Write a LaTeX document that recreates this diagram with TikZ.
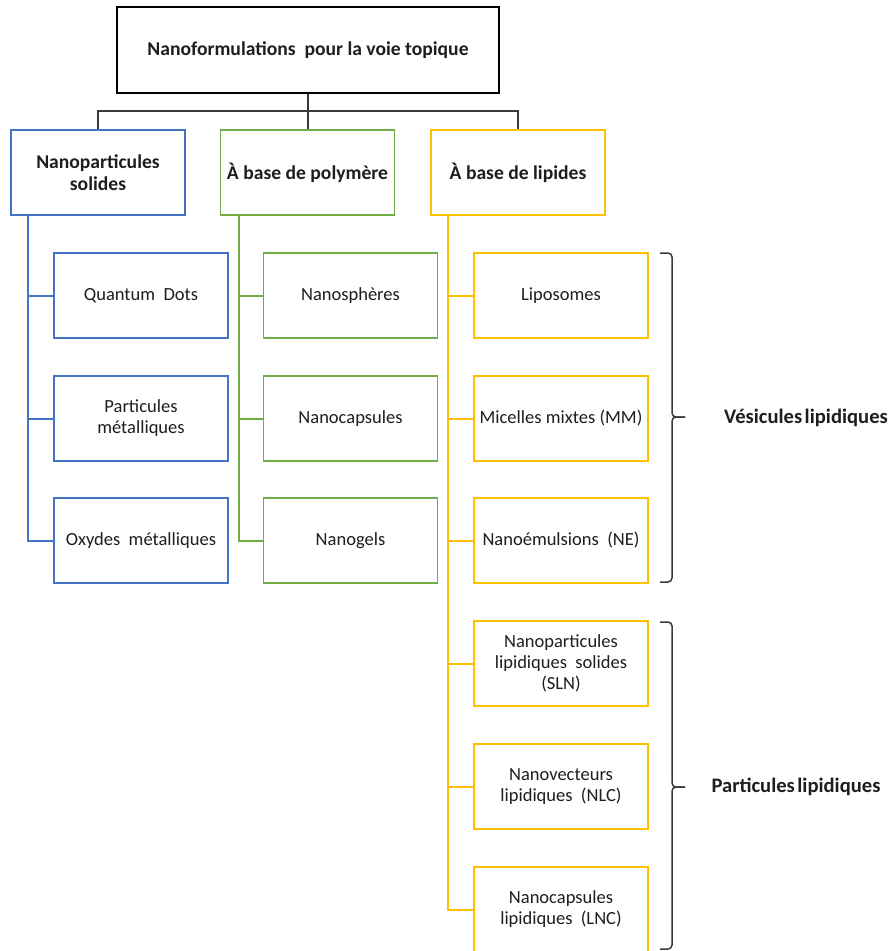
\documentclass[tikz,border=0pt]{standalone}
\usepackage{fontspec}
\setmainfont{Carlito}
\definecolor{cblue}{HTML}{4472C4}
\definecolor{cgreen}{HTML}{70AD47}
\definecolor{cgold}{HTML}{FFC000}
\definecolor{ctext}{HTML}{1E1E1E}
\definecolor{cline}{HTML}{3A3A3A}
\begin{document}
\begin{tikzpicture}[x=1pt,y=-1pt,
  box/.style={draw, line width=1.3pt, fill=white, minimum width=174pt, minimum height=85pt,
    inner sep=1pt, align=center, text=ctext, font=\fontsize{18.5}{21}\selectfont},
  headbox/.style={box, font=\bfseries\fontsize{19.6}{22}\selectfont},
  bbox/.style={box, draw=cblue},
  gbox/.style={box, draw=cgreen},
  ybox/.style={box, draw=cgold},
  topline/.style={draw=cline, line width=1.8pt},
  bline/.style={draw=cblue, line width=2pt},
  gline/.style={draw=cgreen, line width=2pt},
  yline/.style={draw=cgold, line width=2pt},
  bracestyle/.style={draw=cline, line width=1.5pt, rounded corners=4pt},
  lab/.style={text=ctext, font=\bfseries\fontsize{20.6}{24}\selectfont, inner sep=0pt}
]
\useasboundingbox (0,0) rectangle (893,951);

% top
\node[headbox, draw=black, minimum width=382pt, minimum height=86pt] (top) at (308,50)
  {Nanoformulations~ pour la voie topique};

% level 1
\node[headbox, draw=cblue] (l1b) at (98,172.5) {Nanoparticules\\solides};
\node[headbox, draw=cgreen] (l1g) at (307.5,172.5) {À base de polymère};
\node[headbox, draw=cgold] (l1y) at (518,172.5) {À base de lipides};

% gold children
\node[ybox] (y1) at (561,295.5) {Liposomes};
\node[ybox] (y2) at (561,418.5) {Micelles mixtes (MM)};
\node[ybox] (y3) at (561,540.5) {Nanoémulsions~ (NE)};
\node[ybox] (y4) at (561,663.5) {Nanoparticules\\lipidiques~ solides\\(SLN)};
\node[ybox] (y5) at (561,786.5) {Nanovecteurs\\lipidiques~ (NLC)};
\node[ybox] (y6) at (561,909.5) {Nanocapsules\\lipidiques~ (LNC)};

% blue children
\node[bbox] (b1) at (141,295.5) {Quantum~ Dots};
\node[bbox] (b2) at (141,418.5) {Particules\\métalliques};
\node[bbox] (b3) at (141,540.5) {Oxydes~ métalliques};

% green children
\node[gbox] (g1) at (350.5,295.5) {Nanosphères};
\node[gbox] (g2) at (350.5,418.5) {Nanocapsules};
\node[gbox] (g3) at (350.5,540.5) {Nanogels};

% top connectors
\draw[topline] (top.south) -- (top.south |- l1g.north);
\draw[topline] (l1b.north) -- ++(0,-18) -| (l1y.north);

% trunks
\path (l1b.south west) ++(18,0) coordinate (tb);
\path (l1g.south west) ++(19,0) coordinate (tg);
\path (l1y.south west) ++(18,0) coordinate (ty);
\foreach \n in {b1,b2,b3} {\draw[bline] (tb) |- (\n.west);}
\foreach \n in {g1,g2,g3} {\draw[gline] (tg) |- (\n.west);}
\foreach \n in {y1,y2,y3,y4,y5,y6} {\draw[yline] (ty) |- (\n.west);}

% brackets
\coordinate (v1) at (685,417);
\coordinate (v2) at (685,787);
\draw[bracestyle] (660,253) -- (672,253) -- (672,417) -- (v1);
\draw[bracestyle] (v1) -- (672,417) -- (672,582) -- (660,582);
\draw[bracestyle] (660,622) -- (672,622) -- (672,787) -- (v2);
\draw[bracestyle] (v2) -- (672,787) -- (672,949) -- (660,949);

\node[lab] (vl) at (806,418) {Vésicules\hspace{0.12em}lipidiques};
\node[lab] (pl) at (796,787) {Particules\hspace{0.12em}lipidiques};
\end{tikzpicture}
\end{document}
